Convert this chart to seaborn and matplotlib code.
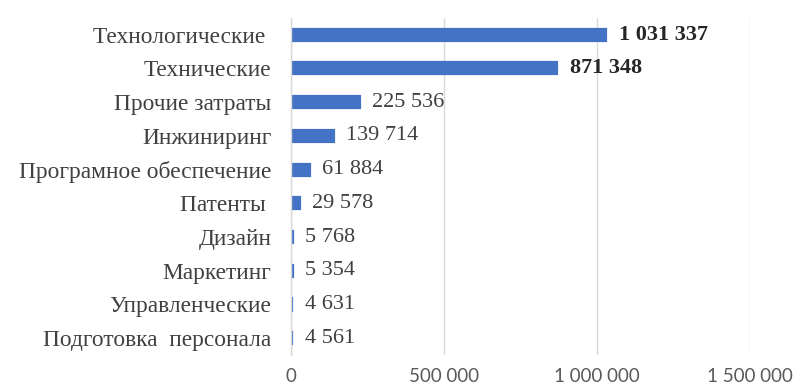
import matplotlib
matplotlib.use("Agg")
import matplotlib.pyplot as plt
import seaborn as sns
import pandas as pd

categories = [
    "Технологические ",
    "Технические",
    "Прочие затраты",
    "Инжиниринг",
    "Програмное обеспечение",
    "Патенты ",
    "Дизайн",
    "Маркетинг",
    "Управленческие",
    "Подготовка  персонала",
]
values = [1031337, 871348, 225536, 139714, 61884, 29578, 5768, 5354, 4631, 4561]
value_labels = ["1 031 337", "871 348", "225 536", "139 714", "61 884",
                "29 578", "5 768", "5 354", "4 631", "4 561"]
bold_labels = [True, True, False, False, False, False, False, False, False, False]
x_ticks = [0, 500000, 1000000, 1500000]
x_tick_labels = ["0", "500 000", "1 000 000", "1 500 000"]

df = pd.DataFrame({"category": categories, "value": values})

sns.set_style("white")
plt.rcParams["font.family"] = ["Liberation Serif", "DejaVu Serif"]

fig = plt.figure(figsize=(7.95, 3.88), dpi=100)
ax = fig.add_axes([0.366, 0.085, 0.577, 0.869])

sns.barplot(data=df, x="value", y="category", orient="h", color="#4472C4",
            saturation=1, width=0.36, edgecolor="#4472C4", linewidth=1.6,
            ax=ax)

for i, (v, lab, b) in enumerate(zip(values, value_labels, bold_labels)):
    ax.text(v + 40000, i, lab, va="center", ha="left", fontsize=16,
            color="#262626" if b else "#404040",
            fontweight="bold" if b else "normal")

ax.set_xlim(0, 1500000)
ax.set_ylim(9.5, -0.5)
ax.set_xticks(x_ticks)
ax.set_xticklabels(x_tick_labels, fontsize=13.5, color="#595959",
                   family=["Lato", "DejaVu Sans"])
ax.tick_params(axis="x", length=0, pad=9)
ax.tick_params(axis="y", length=0, pad=14, labelsize=16.8, labelcolor="#404040")
ax.set_xlabel("")
ax.set_ylabel("")
ax.grid(axis="x", color="#D9D9D9", linewidth=1)
ax.set_axisbelow(True)
for s in ["top", "right", "bottom"]:
    ax.spines[s].set_visible(False)
ax.spines["left"].set_color("#D9D9D9")
ax.spines["left"].set_linewidth(1)

fig.savefig("out.png", dpi=100)
